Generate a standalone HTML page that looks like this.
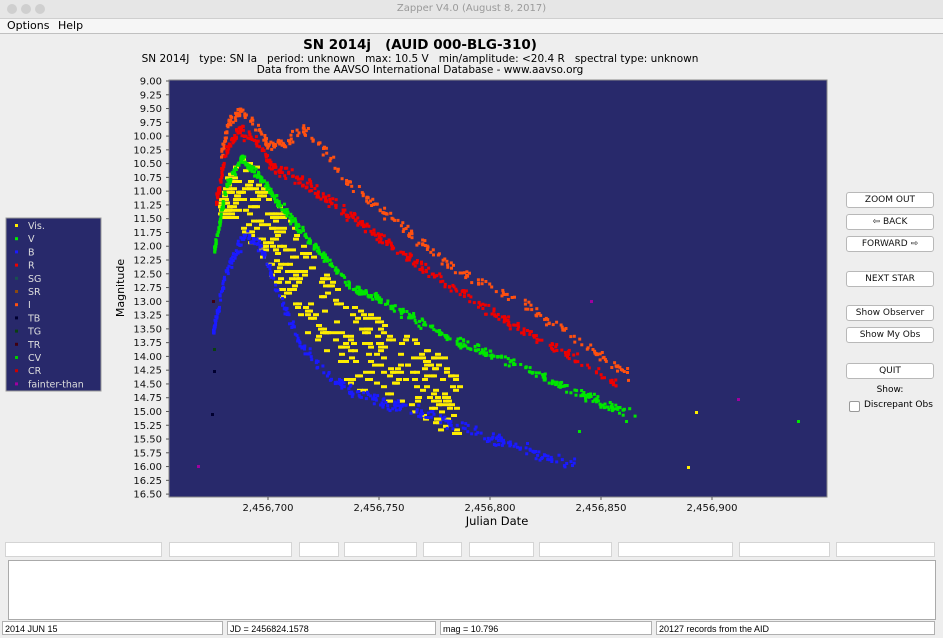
<!DOCTYPE html>
<html><head><meta charset="utf-8"><style>
body{margin:0;width:943px;height:638px;background:#eeeeee;font-family:"DejaVu Sans","Liberation Sans",sans-serif;position:relative;overflow:hidden}
.a{position:absolute}
.btn{position:absolute;left:846px;width:86px;height:14px;background:#fff;border:1px solid #b8b8b8;border-radius:3px;font-size:9px;text-align:center;line-height:14px;color:#111}
.f{position:absolute;background:#fff;border:1px solid #d4d4d4;height:13px;top:542px}
.s{position:absolute;background:#fff;border:1px solid #b0b0b0;height:14px;top:621px;font-family:"Liberation Sans Narrow","Liberation Sans",sans-serif;font-size:9px;line-height:14px;padding-left:2px;box-sizing:border-box}
</style></head><body>
<div class="a" style="left:0;top:0;width:943px;height:18px;background:#e6e6e6;border-bottom:1px solid #cfcfcf"></div>
<div class="a" style="left:7px;top:4px;width:10px;height:10px;border-radius:5px;background:#cfcfcf"></div>
<div class="a" style="left:21px;top:4px;width:10px;height:10px;border-radius:5px;background:#cfcfcf"></div>
<div class="a" style="left:35px;top:4px;width:10px;height:10px;border-radius:5px;background:#cfcfcf"></div>
<div class="a" style="left:0;top:3px;width:943px;text-align:center;font-size:10px;color:#9a9a9a">Zapper V4.0 (August 8, 2017)</div>
<div class="a" style="left:0;top:19px;width:943px;height:14px;background:#f6f6f6;border-bottom:1px solid #c0c0c0"></div>
<div class="a" style="left:7px;top:19px;font-size:11px">Options</div>
<div class="a" style="left:58px;top:19px;font-size:11px">Help</div>
<div class="a" style="left:220px;top:37px;width:400px;text-align:center;font-size:13.5px;font-weight:bold;white-space:pre">SN 2014j   (AUID 000-BLG-310)</div>
<div class="a" style="left:120px;top:53px;width:600px;text-align:center;font-size:10.5px;white-space:pre">SN 2014J   type: SN Ia   period: unknown   max: 10.5 V   min/amplitude: &lt;20.4 R   spectral type: unknown</div>
<div class="a" style="left:120px;top:64px;width:600px;text-align:center;font-size:10.5px">Data from the AAVSO International Database - www.aavso.org</div>
<svg class="a" style="left:0;top:0" width="943" height="638" id="sv">
<rect x="169" y="80" width="658" height="417" fill="#28296b" stroke="#888" stroke-width="1"/>
<g id="pts"></g>
<g id="ax" font-family="DejaVu Sans, sans-serif" font-size="10" fill="#111"></g>
<text x="0" y="0" font-size="11" transform="translate(124,288) rotate(-90)" text-anchor="middle" font-family="DejaVu Sans, sans-serif">Magnitude</text>
<text x="497" y="525" font-size="11.5" text-anchor="middle" font-family="DejaVu Sans, sans-serif">Julian Date</text>
<rect x="6" y="218" width="95" height="173" fill="#28296b" stroke="#999"/>
<g id="lg" font-family="DejaVu Sans, sans-serif" font-size="9.5" fill="#ddd"></g>
</svg>
<div class="btn" style="top:192px">ZOOM OUT</div>
<div class="btn" style="top:214px">⇦ BACK</div>
<div class="btn" style="top:236px">FORWARD ⇨</div>
<div class="btn" style="top:271px">NEXT STAR</div>
<div class="btn" style="top:305px">Show Observer</div>
<div class="btn" style="top:327px">Show My Obs</div>
<div class="btn" style="top:363px">QUIT</div>
<div class="a" style="left:846px;top:385px;width:88px;text-align:center;font-size:9px">Show:</div>
<div class="a" style="left:849px;top:401px;width:9px;height:9px;border:1px solid #999;border-radius:2px;background:#fff"></div>
<div class="a" style="left:864px;top:400px;font-size:9px">Discrepant Obs</div>
<div class="f" style="left:5px;width:155px"></div><div class="f" style="left:169px;width:121px"></div>
<div class="f" style="left:299px;width:38px"></div><div class="f" style="left:344px;width:71px"></div>
<div class="f" style="left:423px;width:37px"></div><div class="f" style="left:469px;width:63px"></div>
<div class="f" style="left:539px;width:71px"></div><div class="f" style="left:618px;width:113px"></div>
<div class="f" style="left:739px;width:89px"></div><div class="f" style="left:836px;width:97px"></div>
<div class="a" style="left:8px;top:560px;width:926px;height:58px;background:#fff;border:1px solid #aaa"></div>
<div class="s" style="left:2px;width:221px">2014 JUN 15</div>
<div class="s" style="left:227px;width:209px">JD = 2456824.1578</div>
<div class="s" style="left:440px;width:212px">mag = 10.796</div>
<div class="s" style="left:656px;width:279px">20127 records from the AID</div>
<script>
var NS="http://www.w3.org/2000/svg";
function el(p,t,a,txt){var e=document.createElementNS(NS,t);for(var k in a)e.setAttribute(k,a[k]);if(txt)e.textContent=txt;p.appendChild(e);return e;}
var ax=document.getElementById('ax');
for(var i=0;i<=30;i++){var y=81+i*13.77;var m=(9+i*0.25).toFixed(2);
 el(ax,'text',{x:162,y:y+3.5,'text-anchor':'end'},m);el(ax,'line',{x1:166,x2:169,y1:y,y2:y,stroke:'#555'});}
var xl=['2,456,700','2,456,750','2,456,800','2,456,850','2,456,900'];
for(var i=0;i<5;i++){var x=268+i*111;el(ax,'text',{x:x,y:511,'text-anchor':'middle'},xl[i]);el(ax,'line',{x1:x,x2:x,y1:497,y2:500,stroke:'#555'});}
var lg=document.getElementById('lg');
var L=[['Vis.','#ffee00'],['V','#00ee00'],['B','#1a1aff'],['R','#ee0000'],['SG','#1a5050'],['SR','#8a4a10'],['I','#ff5010'],['TB','#000030'],['TG','#0a4010'],['TR','#400010'],['CV','#00cc00'],['CR','#cc0000'],['fainter-than','#a000a0']];
for(var i=0;i<L.length;i++){var y=226+i*13.2;el(lg,'rect',{x:15,y:y-2,width:3,height:3,fill:L[i][1]});el(lg,'text',{x:28,y:y+3},L[i][0]);}
var s=12345;function r(){s=(s*16807)%2147483647;return s/2147483647;}
function g(){return (r()+r()+r()-1.5)/1.5;}
function interp(P,x){for(var i=0;i<P.length-1;i++){if(x<=P[i+1][0]){var t=(x-P[i][0])/(P[i+1][0]-P[i][0]);return P[i][1]+t*(P[i+1][1]-P[i][1]);}}return P[P.length-1][1];}
var pts=document.getElementById('pts');
function series(P,n,sd,col,w,h,x0,x1,pw){for(var i=0;i<n;i++){var x=x0+Math.pow(r(),pw||1.5)*(x1-x0);var y=interp(P,x)+g()*sd;el(pts,'rect',{x:x.toFixed(1),y:y.toFixed(1),width:w,height:h,fill:col});}}
var Ip=[[218,160],[228,120],[240,110],[255,125],[268,145],[285,140],[305,128],[320,145],[350,185],[400,225],[450,265],[500,290],[550,320],[600,355],[635,378]];
var Rp=[[215,200],[225,150],[238,128],[255,140],[270,165],[300,180],[350,215],[400,250],[450,285],[500,315],[550,345],[580,360],[615,382]];
var Vp=[[215,240],[225,185],[240,158],[258,175],[280,205],[300,230],[350,285],[400,310],[450,338],[500,356],[550,380],[600,402],[635,412]];
var Ytop=[[218,200],[228,165],[242,155],[262,175],[300,240],[350,300],[400,330],[450,360],[460,365]];
var Ybot=[[218,215],[230,220],[260,260],[300,330],[350,390],[400,405],[450,435],[460,440]];
var Bp=[[212,330],[225,270],[245,232],[262,250],[280,300],[300,345],[320,368],[350,390],[400,405],[450,422],[500,440],[550,458],[575,462]];
for(var i=0;i<420;i++){var x=218+Math.pow(r(),1.3)*240;var a=interp(Ytop,x),b=interp(Ybot,x);var y=a+r()*(b-a);
 el(pts,'rect',{x:x.toFixed(0),y:(Math.round(y/3.6)*3.6).toFixed(1),width:6,height:3,fill:'#ffee00'});}
series(Ip,300,8,'#ff5010',3,3,220,635,1.5);
series(Rp,420,9,'#ee0000',3,3,215,615,1.6);
series(Vp,520,7,'#00e600',3,3,213,635,1.6);
series(Bp,380,9,'#1a1aff',3,3,212,575,1.5);
var ex=[[695,411,'#ffee00'],[687,466,'#ffee00'],[797,420,'#00e600'],[737,398,'#a000a0'],[197,465,'#a000a0'],[211,413,'#000030'],[213,370,'#000030'],[212,300,'#400010'],[213,348,'#0a4010'],[625,420,'#00e600'],[578,430,'#00e600'],[590,300,'#a000a0']];
ex.forEach(function(e){el(pts,'rect',{x:e[0],y:e[1],width:3,height:3,fill:e[2]});});
</script>
</body></html>
